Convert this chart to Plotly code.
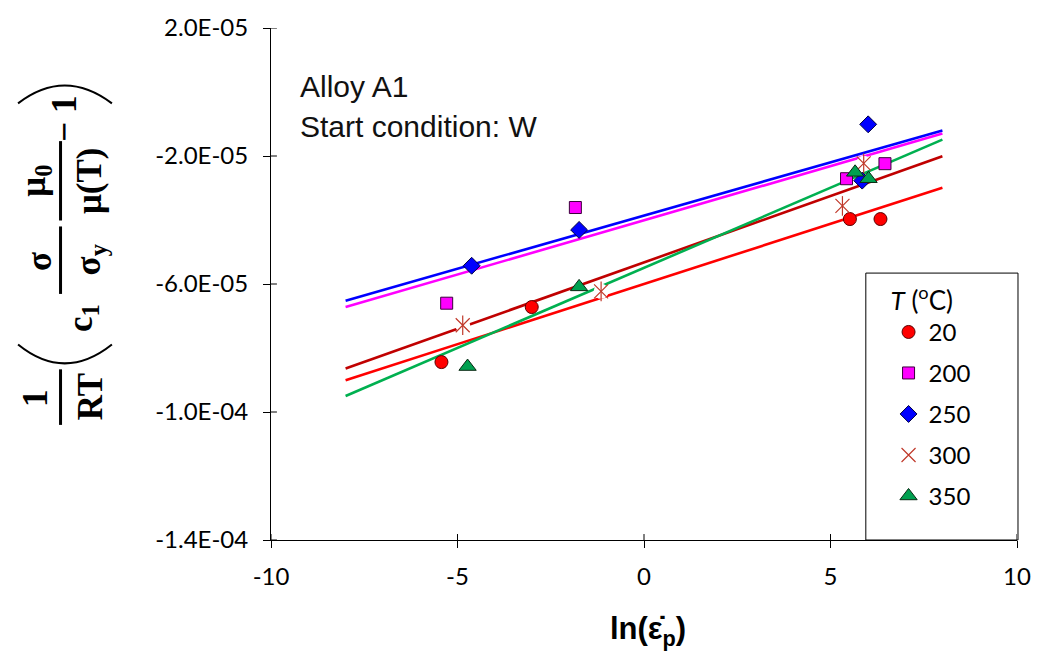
import plotly.graph_objects as go

# ---- measured points: ln(strain rate) vs normalised stress term ----
x_20 = [-5.43, -3.01, 5.52, 6.34]
y_20 = [-8.44e-5, -6.72e-5, -3.97e-5, -3.97e-5]

x_200 = [-5.29, -1.84, 5.43, 6.46]
y_200 = [-6.60e-5, -3.61e-5, -2.71e-5, -2.24e-5]

x_250 = [-4.62, -1.74, 5.85, 6.01]
y_250 = [-5.43e-5, -4.31e-5, -2.77e-5, -1.01e-5]

x_300 = [-4.86, -1.15, 5.32, 5.89]
y_300 = [-7.29e-5, -6.23e-5, -3.56e-5, -2.23e-5]

x_350 = [-4.73, -1.74, 5.66, 6.02]
y_350 = [-8.58e-5, -6.09e-5, -2.51e-5, -2.71e-5]

# ---- linear trend lines, value at each end of trend_x ----
trend_x = [-8, 8]
trend_20 = [-9.01e-5, -2.99e-5]
trend_200 = [-6.72e-5, -1.30e-5]
trend_250 = [-6.52e-5, -1.20e-5]
trend_300 = [-8.64e-5, -2.01e-5]
trend_350 = [-9.50e-5, -1.49e-5]

temperatures = ["20", "200", "250", "300", "350"]
x_ticks = [-10, -5, 0, 5, 10]
x_tick_text = [str(v) for v in x_ticks]
y_ticks = [-1.4e-4, -1.0e-4, -6.0e-5, -2.0e-5, 2.0e-5]
y_tick_text = [f"{v:.1E}" for v in y_ticks]

W, H = 1043, 652
L, R, T, B = 271, 1026, 24, 540


def px(x):
    return (x - L) / (R - L)


def py(y):
    return (B - y) / (B - T)


TICK_FONT = dict(family="Lato, Liberation Sans, sans-serif", size=24, color="#000")

styles = {
    "20": dict(line="#FF0000",
               marker=dict(symbol="circle", size=13, color="#FF0000",
                           line=dict(color="#5a0000", width=1))),
    "200": dict(line="#FF00FF",
                marker=dict(symbol="square", size=12, color="#FF00FF",
                            line=dict(color="#3a003a", width=1))),
    "250": dict(line="#0000FF",
                marker=dict(symbol="diamond", size=13, color="#0000FF",
                            line=dict(color="#000040", width=1))),
    "300": dict(line="#C00000",
                marker=dict(symbol="x-thin-open", size=14, color="#C0392B",
                            line=dict(color="#C0392B", width=1.2))),
    "350": dict(line="#00B050",
                marker=dict(symbol="triangle-up", size=15, color="#00A050",
                            line=dict(color="#0a2a14", width=1))),
}

xs = {"20": x_20, "200": x_200, "250": x_250, "300": x_300, "350": x_350}
ys = {"20": y_20, "200": y_200, "250": y_250, "300": y_300, "350": y_350}
trends = {"20": trend_20, "200": trend_200, "250": trend_250,
          "300": trend_300, "350": trend_350}

fig = go.Figure()

# trend lines underneath the markers
for t in temperatures:
    fig.add_trace(go.Scatter(
        x=trend_x, y=trends[t], mode="lines",
        line=dict(color=styles[t]["line"], width=2.6),
        showlegend=False, legendgroup=t, hoverinfo="skip"))

# white backing behind the asterisks so the lines break around them
fig.add_trace(go.Scatter(
    x=x_300, y=y_300, mode="markers",
    marker=dict(symbol="circle", size=15, color="white"),
    showlegend=False, legendgroup="300", hoverinfo="skip"))

for i, t in enumerate(temperatures):
    fig.add_trace(go.Scatter(
        x=xs[t], y=ys[t], mode="markers", name=t,
        marker=styles[t]["marker"], legendgroup=t, legendrank=i + 1))
    if t == "300":
        # vertical stroke completing the six-armed asterisk
        fig.add_trace(go.Scatter(
            x=x_300, y=y_300, mode="markers",
            marker=dict(symbol="line-ns-open", size=14, color="#C0392B",
                        line=dict(color="#C0392B", width=1.2)),
            showlegend=False, legendgroup="300", hoverinfo="skip"))

annotations = [
    dict(text="Alloy A1", x=px(298), y=py(83), xanchor="left", yanchor="middle"),
    dict(text="Start condition: W", x=px(298), y=py(123), xanchor="left",
         yanchor="middle"),
]
for a in annotations:
    a.update(xref="paper", yref="paper", showarrow=False,
             font=dict(family="Liberation Sans, Arial, sans-serif", size=30,
                       color="#111"))

# x-axis title
annotations.append(dict(
    text="<b>ln(\u03b5\u0307<sub>p</sub>)</b>", x=px(653), y=py(632),
    xref="paper", yref="paper", xanchor="center", yanchor="middle",
    showarrow=False,
    font=dict(family="Liberation Sans, Arial, sans-serif", size=31, color="#000")))

# y-axis title: 1/RT ( c1 sigma/sigma_y mu0/mu(T) - 1 ), set sideways
SERIF = dict(family="Liberation Serif, Times New Roman, serif", size=35, color="#000")
formula_parts = [
    ("<b>1</b>", 32, 397),
    ("<b>RT</b>", 88, 396),
    ("<b>c<sub>1</sub></b>", 80, 316),
    ("<b>\u03c3</b>", 36, 259),
    ("<b>\u03c3<sub>y</sub></b>", 88, 257),
    ("<b>\u03bc<sub>0</sub></b>", 33, 178),
    ("<b>\u03bc(T)</b>", 88, 178),
    ("<b>\u2212 1</b>", 62, 115),
]
for text, cx, cy in formula_parts:
    annotations.append(dict(
        text=text, x=px(cx), y=py(cy), xref="paper", yref="paper",
        xanchor="center", yanchor="middle", textangle=-90, showarrow=False,
        font=SERIF))

shapes = []
# fraction bars
for y0, y1 in [(368, 424), (224, 292), (138, 218)]:
    shapes.append(dict(type="line", xref="paper", yref="paper",
                       x0=px(58), x1=px(58), y0=py(y0), y1=py(y1),
                       line=dict(color="#000", width=3)))
# large parentheses
for ends_y, mid_y in [(343, 362), (100, 82)]:
    ctrl_y = 2 * mid_y - ends_y
    path = (f"M {px(15)},{py(ends_y)} Q {px(62)},{py(ctrl_y)} "
            f"{px(110)},{py(ends_y)}")
    shapes.append(dict(type="path", xref="paper", yref="paper", path=path,
                       line=dict(color="#000", width=2)))

# inward half of the crossing tick marks (outward half comes from the axes)
TICK_IN = 6 / (B - T)
for v in x_ticks:
    shapes.append(dict(type="line", xref="x", yref="paper", x0=v, x1=v,
                       y0=0, y1=TICK_IN, line=dict(color="#000", width=1)))
for v in y_ticks:
    shapes.append(dict(type="line", xref="paper", yref="y", y0=v, y1=v,
                       x0=0, x1=6 / (R - L), line=dict(color="#000", width=1)))

# legend frame
shapes.append(dict(type="rect", xref="paper", yref="paper",
                   x0=px(873), x1=px(1027), y0=py(271), y1=py(540),
                   line=dict(color="#000", width=1), layer="below"))

fig.update_layout(
    width=W, height=H,
    margin=dict(l=L, r=W - R, t=T, b=H - B, pad=0),
    paper_bgcolor="white", plot_bgcolor="white",
    showlegend=True,
    legend=dict(
        x=px(896), y=py(274), xanchor="left", yanchor="top",
        bgcolor="rgba(0,0,0,0)", borderwidth=0,
        font=dict(family="Lato, Liberation Sans, sans-serif", size=24, color="#000"),
        title=dict(text="<i>T</i> (<sup>o</sup>C)",
                   font=dict(family="Lato, Liberation Sans, sans-serif", size=26,
                             color="#000")),
        tracegroupgap=6.8, itemwidth=30,
    ),
    xaxis=dict(range=[-10, 10], tickvals=x_ticks, ticktext=x_tick_text,
               ticks="outside", ticklen=7, ticklabelstandoff=8,
               tickcolor="#000", tickwidth=1, showline=True, linecolor="#000",
               linewidth=1, showgrid=False, zeroline=False, tickfont=TICK_FONT),
    yaxis=dict(range=[-1.4e-4, 2e-5], tickvals=y_ticks, ticktext=y_tick_text,
               ticks="outside", ticklen=7, ticklabelstandoff=10,
               tickcolor="#000", tickwidth=1,
               showline=True, linecolor="#000", linewidth=1, showgrid=False,
               zeroline=False, tickfont=TICK_FONT),
    annotations=annotations,
    shapes=shapes,
)

fig.write_html("out.html")
